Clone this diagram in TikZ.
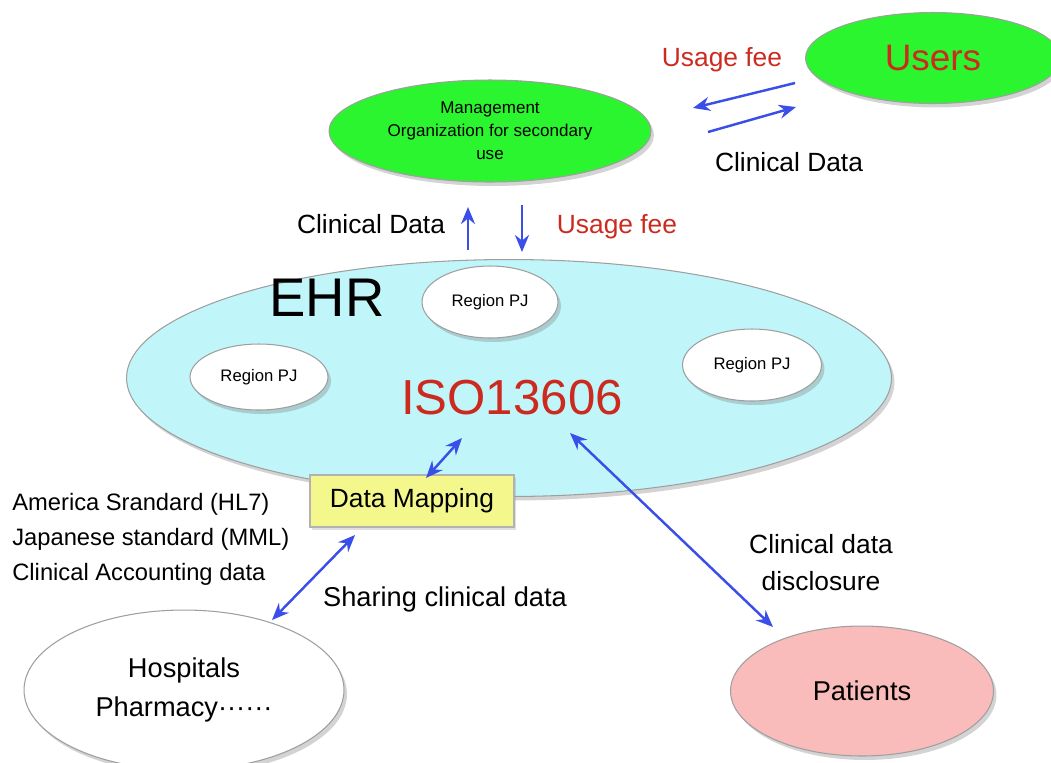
\documentclass[tikz,border=0pt]{standalone}
\usepackage{fontspec}
\setmainfont{Liberation Sans}
\usetikzlibrary{shapes.geometric,arrows.meta,shadows}

\definecolor{mgreen}{RGB}{43,245,46}
\definecolor{ehrcyan}{RGB}{192,246,250}
\definecolor{patpink}{RGB}{250,187,187}
\definecolor{mapyellow}{RGB}{244,248,140}
\definecolor{feered}{RGB}{204,42,30}
\definecolor{linkblue}{RGB}{58,78,232}

\newcommand{\fs}[2]{\fontsize{#1}{#2}\selectfont}

\begin{document}
\begin{tikzpicture}[x=0.02cm, y=-0.02cm,
    oval/.style={ellipse, draw=gray!75, line width=0.6pt, inner sep=0pt,
        drop shadow={opacity=0.35, shadow xshift=0.6mm, shadow yshift=-0.8mm}},
    lbl/.style={inner sep=0pt, font=\fs{15}{18}},
    link/.style={draw=linkblue, line width=1.4pt, -{Stealth[length=3.4mm,width=2.8mm]}},
    twoway/.style={link, {Stealth[length=3.4mm,width=2.8mm]}-{Stealth[length=3.4mm,width=2.8mm]}}]

    % 1. Canvas
    \useasboundingbox (0,0) rectangle (1051,762);

    % 2. The big EHR ellipse and its regions
    \node[oval, fill=ehrcyan, minimum width=15.3cm, minimum height=4.74cm] (ehr) at (509,378) {};
    \node[inner sep=0pt, font=\fs{31}{36}] (ehrlbl) at (327,298) {EHR};
    \node[oval, fill=white, minimum width=2.72cm, minimum height=1.44cm, font=\fs{9.5}{12}] (regtop) at (490,302) {Region PJ};
    \node[oval, fill=white, minimum width=2.76cm, minimum height=1.32cm, font=\fs{9.5}{12}] (regleft) at (259,377) {Region PJ};
    \node[oval, fill=white, minimum width=2.78cm, minimum height=1.44cm, font=\fs{9.5}{12}] (regright) at (752,365) {Region PJ};
    \node[inner sep=0pt, text=feered, font=\fs{28}{32}] (iso) at (512,398) {ISO13606};

    % 3. Secondary use and users
    \node[oval, fill=mgreen, minimum width=6.44cm, minimum height=2.04cm, align=center, font=\fs{9.7}{13}] (mgmt) at (490,131)
        {Management\\Organization for secondary\\use};
    \node[oval, fill=mgreen, minimum width=5.1cm, minimum height=1.82cm, text=feered, font=\fs{21}{24}] (users) at (933,58) {Users};
    \node[lbl, text=feered] (fee1) at (722,60) {Usage fee};
    \node[lbl] (cd1) at (789,162) {Clinical Data};
    \node[lbl] (cd2) at (371,224) {Clinical Data};
    \node[lbl, text=feered] (fee2) at (617,227) {Usage fee};

    % 4. Data mapping and the sources
    \node[draw=gray!60, fill=mapyellow, line width=0.6pt, minimum width=4.08cm, minimum height=1.04cm, font=\fs{15}{18},
        drop shadow={opacity=0.25, shadow xshift=0.4mm, shadow yshift=-0.5mm}] (dm) at (412,501) {Data Mapping};
    \node[anchor=west, align=left, inner sep=0pt, font=\fs{13.5}{19.9}] (std) at (12,539)
        {America Srandard (HL7)\\Japanese standard (MML)\\Clinical Accounting data};
    \node[lbl, font=\fs{15.5}{18}] (share) at (445,599) {Sharing clinical data};
    \node[oval, fill=white, minimum width=6.4cm, minimum height=3.2cm, align=center, font=\fs{15.5}{22}] (hosp) at (184,690)
        {Hospitals\\Pharmacy\textperiodcentered\textperiodcentered\textperiodcentered\textperiodcentered\textperiodcentered\textperiodcentered};

    % 5. Patients
    \node[oval, fill=patpink, minimum width=5.26cm, minimum height=2.6cm, font=\fs{15.5}{18}] (pat) at (862,691) {Patients};
    \node[lbl, align=center, font=\fs{15}{21}] (discl) at (821,563) {Clinical data\\disclosure};

    % 6. Arrow end points
    \coordinate (ufA) at (795,83);
    \coordinate (ufB) at (693,108);
    \coordinate (cdA) at (708,132);
    \coordinate (cdB) at (796,107);
    \coordinate (upA) at (468,250);
    \coordinate (upB) at (468,207);
    \coordinate (dnA) at (522,205);
    \coordinate (dnB) at (522,252);
    \coordinate (isoA) at (462,438);
    \coordinate (dmA) at (426,478);
    \coordinate (dmB) at (355,535);
    \coordinate (hospA) at (272,620);
    \coordinate (isoB) at (570,433);
    \coordinate (patA) at (773,627);

    % 7. Arrows
    \draw[link] (ufA) -- (ufB);
    \draw[link] (cdA) -- (cdB);
    \draw[link] (upA) -- (upB);
    \draw[link] (dnA) -- (dnB);
    \draw[twoway] (isoA) -- (dmA);
    \draw[twoway] (dmB) -- (hospA);
    \draw[twoway] (isoB) -- (patA);

\end{tikzpicture}
\end{document}
